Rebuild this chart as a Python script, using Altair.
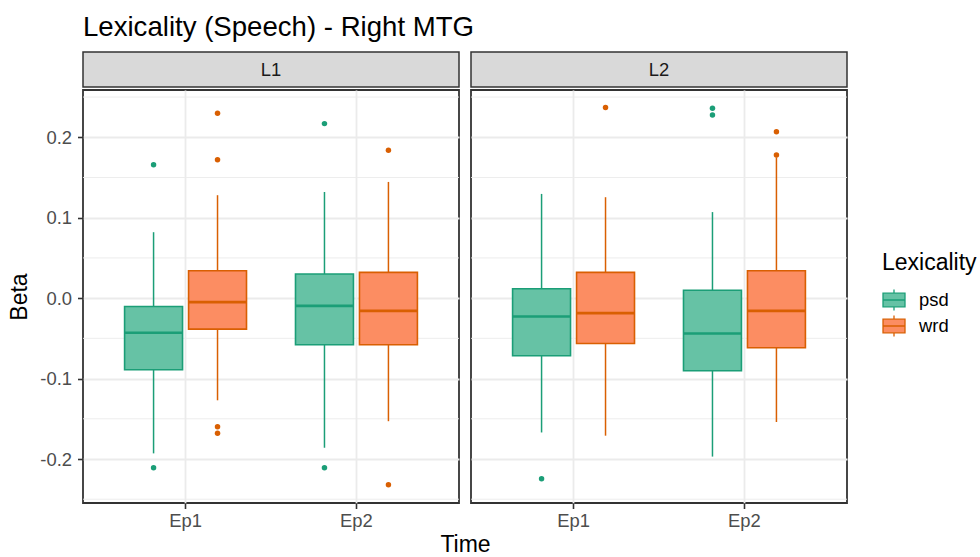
import altair as alt
import pandas as pd

# ---- data ----
langs = ["L1", "L1", "L1", "L1", "L2", "L2", "L2", "L2"]
times = ["Ep1", "Ep1", "Ep2", "Ep2", "Ep1", "Ep1", "Ep2", "Ep2"]
lexicality = ["psd", "wrd", "psd", "wrd", "psd", "wrd", "psd", "wrd"]
whisker_low = [-0.193, -0.127, -0.186, -0.153, -0.167, -0.171, -0.197, -0.154]
q1 = [-0.089, -0.0385, -0.058, -0.058, -0.0717, -0.0564, -0.0903, -0.0617]
median = [-0.043, -0.005, -0.0096, -0.0158, -0.0228, -0.0186, -0.044, -0.0158]
q3 = [-0.0104, 0.034, 0.030, 0.032, 0.0116, 0.032, 0.0099, 0.034]
whisker_high = [0.082, 0.128, 0.132, 0.1445, 0.1296, 0.1255, 0.107, 0.175]

out_lang = ["L1", "L1", "L1", "L1", "L1", "L1", "L1", "L1", "L1", "L1",
            "L2", "L2", "L2", "L2", "L2", "L2"]
out_time = ["Ep1", "Ep1", "Ep1", "Ep1", "Ep1", "Ep1", "Ep2", "Ep2", "Ep2", "Ep2",
            "Ep1", "Ep1", "Ep2", "Ep2", "Ep2", "Ep2"]
out_lex = ["psd", "psd", "wrd", "wrd", "wrd", "wrd", "psd", "psd", "wrd", "wrd",
           "psd", "wrd", "psd", "psd", "wrd", "wrd"]
out_beta = [0.166, -0.211, 0.230, 0.172, -0.160, -0.168, 0.217, -0.211, 0.184, -0.232,
            -0.2245, 0.237, 0.236, 0.2277, 0.207, 0.178]

panel_names = ["L1", "L2"]
time_levels = ["Ep1", "Ep2"]
lex_levels = ["psd", "wrd"]
major_ticks = [-0.2, -0.1, 0.0, 0.1, 0.2]
minor_grid = [-0.25, -0.15, -0.05, 0.05, 0.15, 0.25]
y_domain = [-0.2547, 0.2588]
fill_colors = ["#66C2A5", "#FC8D62"]
line_colors = ["#1B9E77", "#D95F02"]

summary = pd.DataFrame({
    "lang": langs, "time": times, "lex": lexicality,
    "low": whisker_low, "q1": q1, "median": median, "q3": q3, "high": whisker_high,
})
outliers = pd.DataFrame({"lang": out_lang, "time": out_time, "lex": out_lex, "beta": out_beta})
minor_df = pd.DataFrame({"v": minor_grid})

W, H, STRIP_H = 376, 413, 35
FONT = "Liberation Sans"
TXT = 18.4
BOX_PATH = "M-1,-0.62H1V0.62H-1Z M-1,0H1 M0,-0.62V-0.95 M0,0.62V0.95"

legend = alt.Legend(
    title="Lexicality", orient="none", legendX=799, legendY=200,
    symbolType=BOX_PATH, symbolSize=484, symbolStrokeWidth=1.3,
    titleFontSize=23, titleFont=FONT, titleFontWeight="normal", titleColor="black",
    labelFontSize=TXT, labelFont=FONT, labelColor="black",
    titlePadding=13, rowPadding=-5, labelOffset=13, padding=0,
)


def panel(name, first):
    s = summary[summary["lang"] == name]
    o = outliers[outliers["lang"] == name]

    x = alt.X("time:N", scale=alt.Scale(domain=time_levels, paddingInner=0, paddingOuter=0.1),
              axis=alt.Axis(title=None, grid=True, bandPosition=0.5, labelAngle=0,
                            labelPadding=3, ticks=True))
    xo = alt.XOffset("lex:N", scale=alt.Scale(domain=lex_levels, paddingInner=0.094,
                                              paddingOuter=0.383))
    yscale = alt.Scale(domain=y_domain, nice=False, zero=False)
    yaxis = alt.Axis(
        values=major_ticks, title="Beta" if first else None, labels=first, ticks=first,
        labelExpr="datum.value < 0 ? '-' + format(-datum.value, '.1f') : format(datum.value, '.1f')",
        titlePadding=8, labelPadding=6,
    )
    fill = alt.Fill("lex:N", scale=alt.Scale(domain=lex_levels, range=fill_colors), legend=legend)
    stroke = alt.Stroke("lex:N", scale=alt.Scale(domain=lex_levels, range=line_colors), legend=legend)
    dot = alt.Color("lex:N", scale=alt.Scale(domain=lex_levels, range=line_colors), legend=None)

    minor = alt.Chart(minor_df).mark_rule(color="#EBEBEB", strokeWidth=0.9).encode(
        y=alt.Y("v:Q", scale=yscale, axis=yaxis)
    )
    base = alt.Chart(s)
    w_low = base.mark_rule(strokeWidth=1.5).encode(
        x=x, xOffset=xo, y=alt.Y("low:Q", scale=yscale), y2="q1:Q", stroke=stroke)
    w_high = base.mark_rule(strokeWidth=1.5).encode(
        x=x, xOffset=xo, y=alt.Y("q3:Q", scale=yscale), y2="high:Q", stroke=stroke)
    box = base.mark_bar(strokeWidth=1.6, opacity=1).encode(
        x=x, xOffset=xo, y=alt.Y("q1:Q", scale=yscale), y2="q3:Q", fill=fill, stroke=stroke)
    med = base.mark_bar(strokeWidth=2.6, fillOpacity=0).encode(
        x=x, xOffset=xo, y=alt.Y("median:Q", scale=yscale), y2="median:Q", stroke=stroke)
    pts = alt.Chart(o).mark_circle(size=30, opacity=1).encode(
        x=x, xOffset=xo, y=alt.Y("beta:Q", scale=yscale), color=dot)

    plot = alt.layer(minor, w_low, w_high, box, med, pts).properties(
        width=W, height=H,
        view=alt.ViewBackground(fill="white", stroke="#333333", strokeWidth=1.8),
    )
    strip = alt.Chart(pd.DataFrame({"lang": [name]})).mark_text(
        fontSize=TXT, font=FONT, color="#1A1A1A", baseline="middle", align="center"
    ).encode(text="lang:N", x=alt.value(W / 2), y=alt.value(STRIP_H / 2)).properties(
        width=W, height=STRIP_H,
        view=alt.ViewBackground(fill="#D9D9D9", stroke="#333333", strokeWidth=1.5),
    )
    return alt.vconcat(strip, plot, spacing=1)


body = alt.hconcat(
    *[panel(n, i == 0) for i, n in enumerate(panel_names)], spacing=8,
    title=alt.TitleParams("Time", orient="bottom", anchor="middle", frame="group",
                          fontSize=23, font=FONT, fontWeight="normal", color="black",
                          offset=3, dx=382.5),
)

chart = alt.vconcat(
    body,
    title=alt.TitleParams("Lexicality (Speech) - Right MTG", anchor="start", frame="group",
                          fontSize=27.6, font=FONT, fontWeight="normal", color="black",
                          offset=10),
).resolve_scale(fill="shared", stroke="shared", color="shared").properties(
    padding={"left": 7, "top": 13, "right": 0, "bottom": 0},
    background="white",
).configure(font=FONT).configure_axis(
    labelFont=FONT, labelFontSize=TXT, labelColor="#4D4D4D",
    titleFont=FONT, titleFontSize=23, titleColor="black", titleFontWeight="normal",
    tickColor="#333333", tickWidth=1.6, tickSize=5.5, domain=False,
    gridColor="#EBEBEB", gridWidth=1.8,
).configure_view(stroke="#333333")

chart.save("out.html", embed_options={"renderer": "svg", "actions": False})
